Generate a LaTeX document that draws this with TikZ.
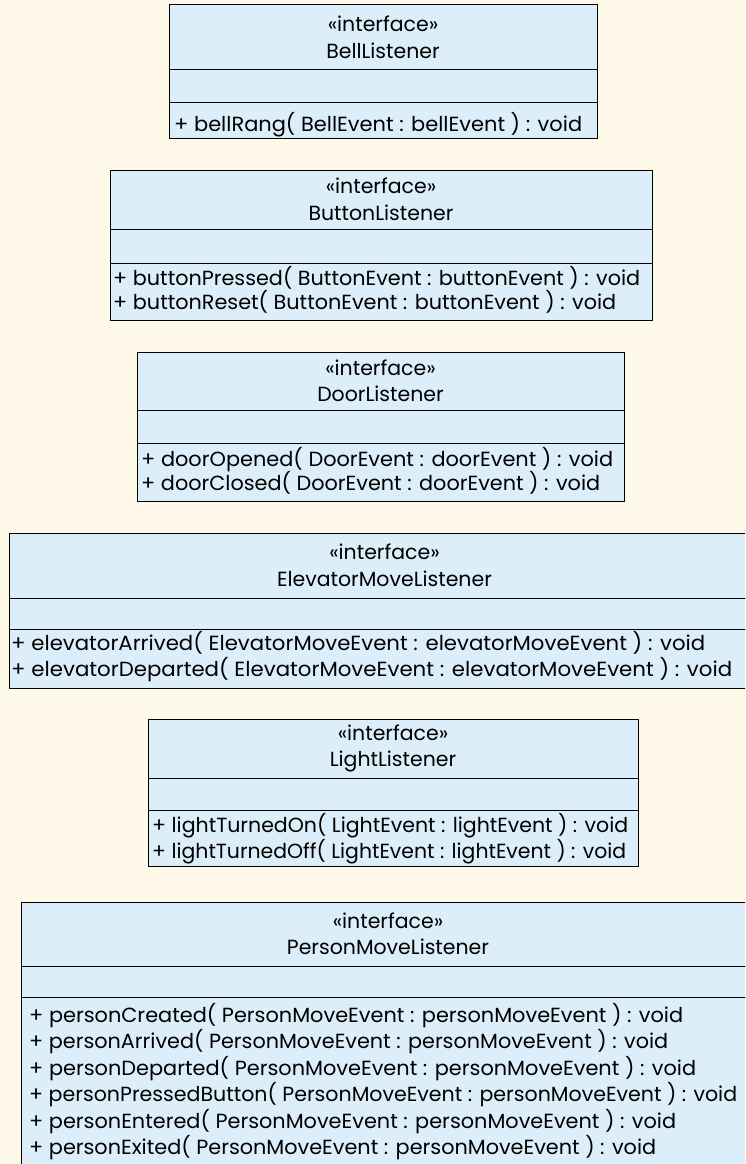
\documentclass[tikz,border=0pt]{standalone}
\usepackage{graphicx}
\usepackage{fontspec}
\setmainfont{Poppins}
\definecolor{bgcream}{RGB}{255,249,234}
\definecolor{boxblue}{RGB}{220,238,250}
\newlength\reflen
\newlength\tmpl
\newcommand\F[1]{\fontsize{\fs pt}{#1pt}\selectfont}
\newcommand\fitline[2]{\settowidth\tmpl{#2}\pgfmathsetmacro\sx{#1/\tmpl}\scalebox{\sx}[1]{#2}}
\newcommand\iframe[8]{%
  \node[comp, minimum width={#3-#2}, minimum height={#5-#4}] (#1-name) at (#2,#4) {};
  \node[comp, minimum width={#3-#2}, minimum height={#6-#5}] (#1-attr) at (#2,#5) {};
  \node[comp, minimum width={#3-#2}, minimum height={#7-#6}] (#1-ops) at (#2,#6) {};
  \node[headtxt] (#1-title) at (#1-name.center) {«interface»\\#8};
}
\begin{document}
\settowidth\reflen{\fontsize{10pt}{12pt}\selectfont + personPressedButton( PersonMoveEvent : personMoveEvent ) : void}%
\pgfmathsetmacro\fs{10*705/\reflen}%
\begin{tikzpicture}[x=1pt,y=-1pt,
  comp/.style={draw=black, line width=1pt, fill=boxblue, anchor=north west, inner sep=0pt, outer sep=0pt},
  headtxt/.style={align=center, inner sep=0pt, font=\F{26.5}},
  optxt/.style={anchor=base west, inner sep=0pt, font=\F{20}}]
\fill[bgcream] (0,0) rectangle (745,1164);
\useasboundingbox (0,0) rectangle (745,1164);
\clip (0,0) rectangle (745,1164);

% BellListener
\iframe{bell}{169}{597}{5}{70}{102}{138}{BellListener}
\node[optxt] (bell-m1) at (174,131) {\fitline{408}{+ bellRang( BellEvent : bellEvent ) : void}};

% ButtonListener
\iframe{button}{110}{652}{170}{229}{263}{320}{ButtonListener}
\node[optxt] (button-m1) at (113,285) {\fitline{527}{+ buttonPressed( ButtonEvent : buttonEvent ) : void}};
\node[optxt] (button-m2) at (113,309) {\fitline{503}{+ buttonReset( ButtonEvent : buttonEvent ) : void}};

% DoorListener
\iframe{door}{137}{624}{352}{410}{443}{501}{DoorListener}
\node[optxt] (door-m1) at (141,466) {\fitline{472}{+ doorOpened( DoorEvent : doorEvent ) : void}};
\node[optxt] (door-m2) at (141,490) {\fitline{459}{+ doorClosed( DoorEvent : doorEvent ) : void}};

% ElevatorMoveListener
\iframe{elev}{9}{760}{533}{598}{629}{688}{ElevatorMoveListener}
\node[optxt] (elev-m1) at (11,650) {\fitline{694}{+ elevatorArrived( ElevatorMoveEvent : elevatorMoveEvent ) : void}};
\node[optxt] (elev-m2) at (11,676) {\fitline{721}{+ elevatorDeparted( ElevatorMoveEvent : elevatorMoveEvent ) : void}};

% LightListener
\iframe{light}{148}{638}{719}{778}{810}{866}{LightListener}
\node[optxt] (light-m1) at (152,832) {\fitline{476}{+ lightTurnedOn( LightEvent : lightEvent ) : void}};
\node[optxt] (light-m2) at (152,858) {\fitline{474}{+ lightTurnedOff( LightEvent : lightEvent ) : void}};

% PersonMoveListener
\iframe{person}{21}{755}{902}{966}{997}{1185}{PersonMoveListener}
\node[optxt] (person-m1) at (29,1022) {\fitline{654}{+ personCreated( PersonMoveEvent : personMoveEvent ) : void}};
\node[optxt] (person-m2) at (29,1048.5) {\fitline{639}{+ personArrived( PersonMoveEvent : personMoveEvent ) : void}};
\node[optxt] (person-m3) at (29,1075) {\fitline{667}{+ personDeparted( PersonMoveEvent : personMoveEvent ) : void}};
\node[optxt] (person-m4) at (29,1101.5) {\fitline{708}{+ personPressedButton( PersonMoveEvent : personMoveEvent ) : void}};
\node[optxt] (person-m5) at (29,1128) {\fitline{647}{+ personEntered( PersonMoveEvent : personMoveEvent ) : void}};
\node[optxt] (person-m6) at (29,1154.5) {\fitline{627}{+ personExited( PersonMoveEvent : personMoveEvent ) : void}};
\end{tikzpicture}
\end{document}
